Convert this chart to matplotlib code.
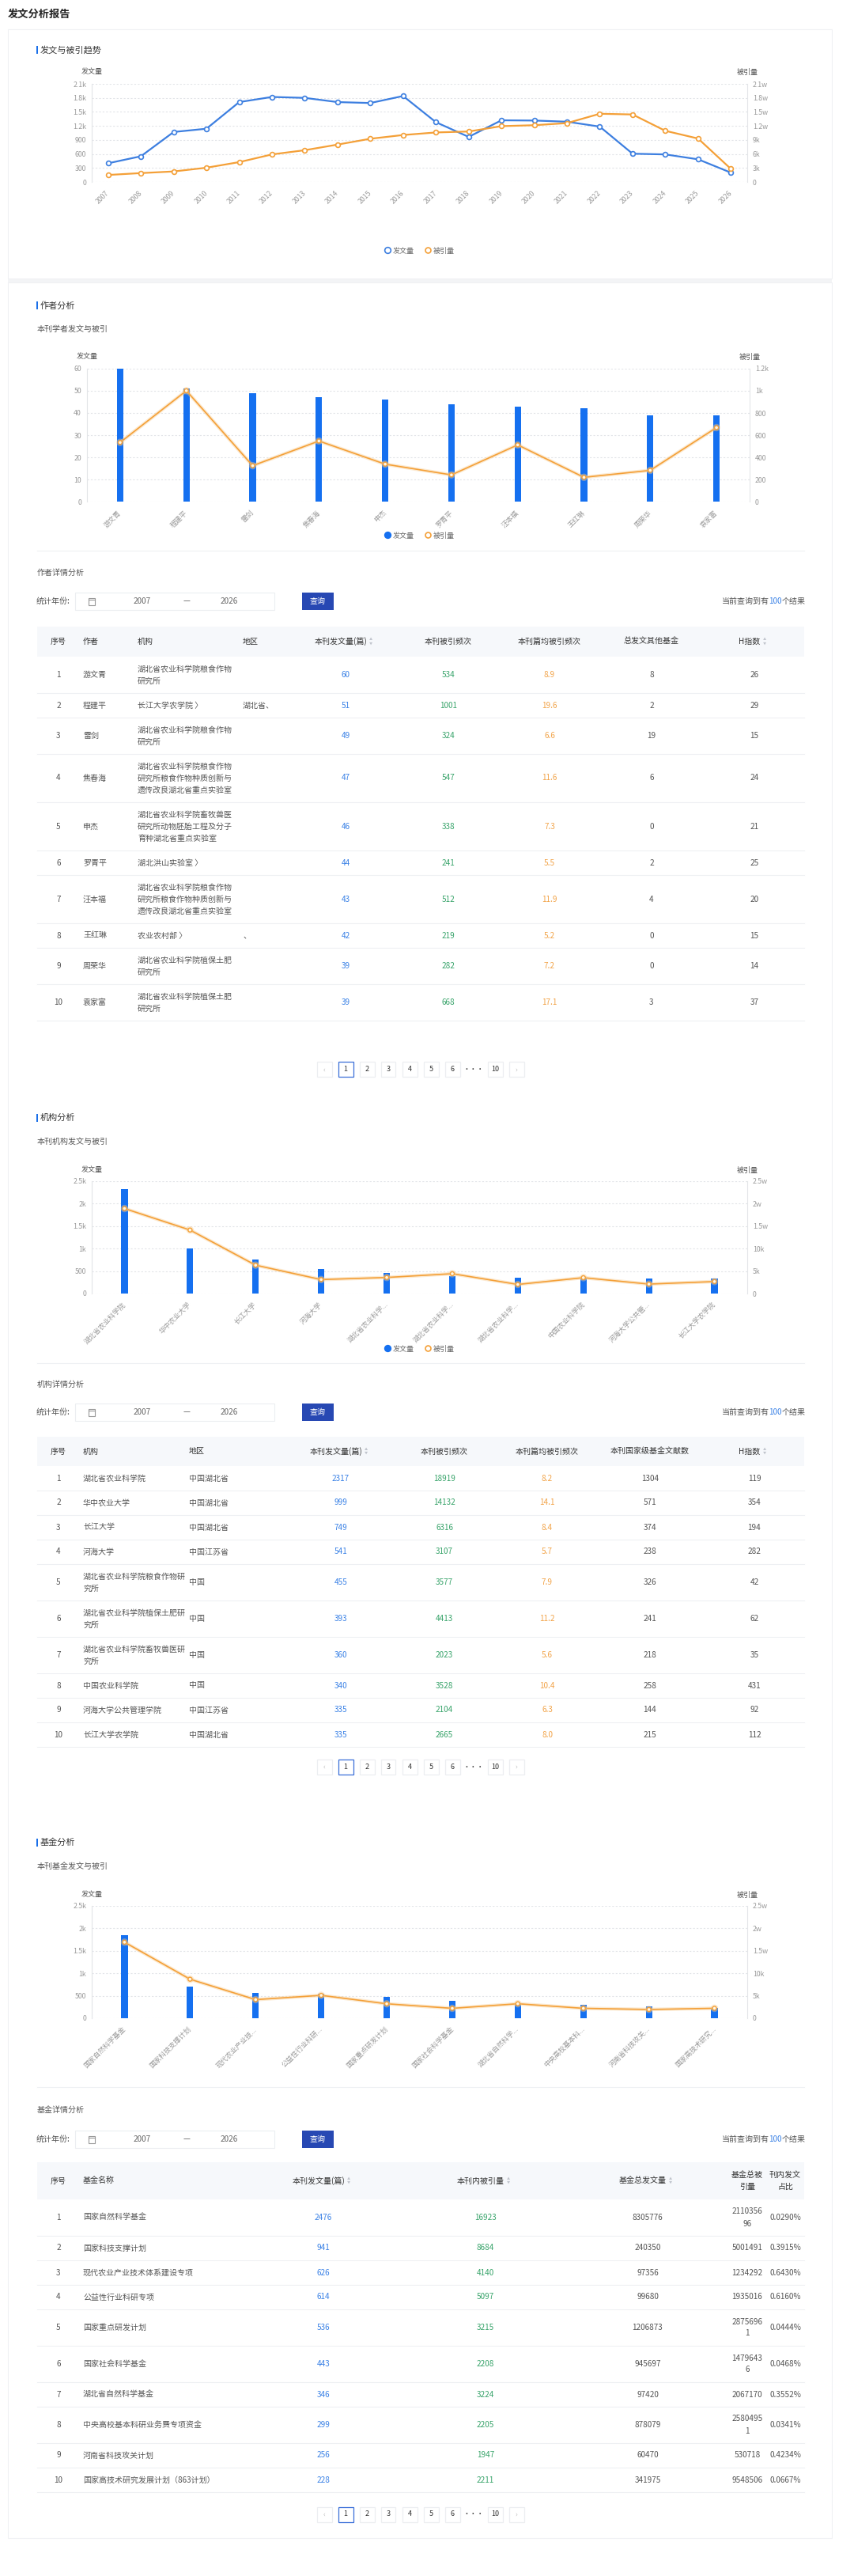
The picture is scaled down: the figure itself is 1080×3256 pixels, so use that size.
import matplotlib
matplotlib.use('Agg')
import matplotlib.pyplot as plt
import matplotlib.patheffects as pe
from matplotlib.lines import Line2D
from matplotlib.patches import Rectangle
import numpy as np

plt.rcParams['font.family'] = ['Noto Sans CJK SC', 'DejaVu Sans']

# ---------------- data ----------------
years = ['2007', '2008', '2009', '2010', '2011', '2012', '2013', '2014', '2015', '2016',
         '2017', '2018', '2019', '2020', '2021', '2022', '2023', '2024', '2025', '2026']
trend_papers = [400, 550, 1070, 1140, 1710, 1820, 1800, 1710, 1690, 1840,
                1280, 965, 1320, 1315, 1290, 1185, 605, 590, 485, 200]
trend_cites = [1500, 1900, 2250, 3050, 4250, 5900, 6800, 8000, 9250, 10050,
               10600, 10800, 11950, 12150, 12600, 14600, 14450, 10950, 9300, 2800]
trend_left_ticks = ['0', '300', '600', '900', '1.2k', '1.5k', '1.8k', '2.1k']
trend_right_ticks = ['0', '3k', '6k', '9k', '1.2w', '1.5w', '1.8w', '2.1w']

author_names = ['游文青', '程建平', '雷剑', '焦春海', '申杰', '罗青平', '汪本福', '王红琳', '周荣华', '袁家富']
author_orgs = ['湖北省农业科学院粮食作物研究所',
               '长江大学农学院 〉',
               '湖北省农业科学院粮食作物研究所',
               '湖北省农业科学院粮食作物研究所粮食作物种质创新与遗传改良湖北省重点实验室',
               '湖北省农业科学院畜牧兽医研究所动物胚胎工程及分子育种湖北省重点实验室',
               '湖北洪山实验室 〉',
               '湖北省农业科学院粮食作物研究所粮食作物种质创新与遗传改良湖北省重点实验室',
               '农业农村部 〉',
               '湖北省农业科学院植保土肥研究所',
               '湖北省农业科学院植保土肥研究所']
author_regions = ['', '湖北省、', '', '', '', '', '', '、', '', '']
author_papers = [60, 51, 49, 47, 46, 44, 43, 42, 39, 39]
author_cites = [534, 1001, 324, 547, 338, 241, 512, 219, 282, 668]
author_avg = ['8.9', '19.6', '6.6', '11.6', '7.3', '5.5', '11.9', '5.2', '7.2', '17.1']
author_funds = [8, 2, 19, 6, 0, 2, 4, 0, 0, 3]
author_h = [26, 29, 15, 24, 21, 25, 20, 15, 14, 37]
author_left_ticks = ['0', '10', '20', '30', '40', '50', '60']
author_right_ticks = ['0', '200', '400', '600', '800', '1k', '1.2k']

org_names = ['湖北省农业科学院', '华中农业大学', '长江大学', '河海大学',
             '湖北省农业科学院粮食作物研究所', '湖北省农业科学院植保土肥研究所',
             '湖北省农业科学院畜牧兽医研究所', '中国农业科学院', '河海大学公共管理学院', '长江大学农学院']
org_regions = ['中国湖北省', '中国湖北省', '中国湖北省', '中国江苏省', '中国', '中国', '中国',
               '中国', '中国江苏省', '中国湖北省']
org_papers = [2317, 999, 749, 541, 455, 393, 360, 340, 335, 335]
org_cites = [18919, 14132, 6316, 3107, 3577, 4413, 2023, 3528, 2104, 2665]
org_avg = ['8.2', '14.1', '8.4', '5.7', '7.9', '11.2', '5.6', '10.4', '6.3', '8.0']
org_funds = [1304, 571, 374, 238, 326, 241, 218, 258, 144, 215]
org_h = [119, 354, 194, 282, 42, 62, 35, 431, 92, 112]
org_left_ticks = ['0', '500', '1k', '1.5k', '2k', '2.5k']
org_right_ticks = ['0', '5k', '10k', '1.5w', '2w', '2.5w']

fund_names = ['国家自然科学基金', '国家科技支撑计划', '现代农业产业技术体系建设专项', '公益性行业科研专项',
              '国家重点研发计划', '国家社会科学基金', '湖北省自然科学基金', '中央高校基本科研业务费专项资金',
              '河南省科技攻关计划', '国家高技术研究发展计划（863计划）']
fund_chart_papers = [1850, 700, 560, 545, 480, 395, 335, 295, 260, 225]
fund_papers = [2476, 941, 626, 614, 536, 443, 346, 299, 256, 228]
fund_cites = [16923, 8684, 4140, 5097, 3215, 2208, 3224, 2205, 1947, 2211]
fund_total_papers = [8305776, 240350, 97356, 99680, 1206873, 945697, 97420, 878079, 60470, 341975]
fund_total_cites = [211035696, 5001491, 1234292, 1935016, 28756961, 14796436, 2067170, 25804951, 530718, 9548506]
fund_share = ['0.0290%', '0.3915%', '0.6430%', '0.6160%', '0.0444%', '0.0468%', '0.3552%',
              '0.0341%', '0.4234%', '0.0667%']

page_labels = ['‹', '1', '2', '3', '4', '5', '6', '···', '10', '›']

# ---------------- styles ----------------
BLUE_LINE = '#3d7fe0'
ORANGE = '#f4a038'
BAR = '#1570f0'
GRID = '#e2e4e8'
TICK = '#999999'
TEXT = '#333333'
SUB = '#555555'
NUM_BLUE = '#3b82e6'
NUM_GREEN = '#39a46b'
NUM_ORANGE = '#f2a44a'
LINE = '#eef0f3'

W, H = 1080, 3256
fig = plt.figure(figsize=(W / 100, H / 100), dpi=100)
fig.patch.set_facecolor('white')
renderer = fig.canvas.get_renderer()


def X(px):
    return px / W


def Y(py):
    return 1 - py / H


def txt(x, y, s, size=7.2, color=SUB, ha='left', va='center', **kw):
    return fig.text(X(x), Y(y), s, fontsize=size, color=color, ha=ha, va=va, **kw)


def rect(x0, y0, x1, y1, fc, ec='none', lw=0.8, z=-1):
    fig.add_artist(Rectangle((X(x0), Y(y1)), X(x1) - X(x0), Y(y0) - Y(y1),
                             transform=fig.transFigure, facecolor=fc, edgecolor=ec,
                             linewidth=lw, zorder=z))


def hline(x0, x1, y, color=LINE, lw=0.8):
    fig.add_artist(Line2D([X(x0), X(x1)], [Y(y), Y(y)], transform=fig.transFigure,
                          color=color, lw=lw, zorder=-1))


def short(name):
    return name if len(name) <= 8 else name[:7] + '...'


def wrap_text(s, n):
    s = str(s)
    return [s[i:i + n] for i in range(0, len(s), n)] or ['']


def section(y, title):
    rect(45.5, y - 5, 48, y + 5, '#1a6fe8', z=1)
    txt(51, y, title, size=8, color=TEXT)


def setup_axes(left, right, top, bottom, n, ymax, lticks, rmax, rticks, xlabels, name_y):
    ax = fig.add_axes([X(left), Y(bottom), (right - left) / W, (bottom - top) / H])
    ax2 = ax.twinx()
    ax.set_xlim(-0.5, n - 0.5)
    ax.set_ylim(0, ymax)
    ax2.set_ylim(0, rmax)
    ax.set_yticks(np.linspace(0, ymax, len(lticks)))
    ax.set_yticklabels(lticks)
    ax2.set_yticks(np.linspace(0, rmax, len(rticks)))
    ax2.set_yticklabels(rticks)
    ax.set_xticks(range(n))
    ax.set_xticklabels(xlabels, rotation=45, ha='right', va='center', rotation_mode='anchor')
    for a in (ax, ax2):
        for s in a.spines.values():
            s.set_visible(False)
        a.tick_params(axis='both', length=0, labelsize=6.3, labelcolor=TICK, pad=5)
        a.set_facecolor('none')
    ax.tick_params(axis='x', pad=9)
    ax.spines['left'].set_visible(True)
    ax.spines['left'].set_color('#e3e5e8')
    ax2.spines['right'].set_visible(True)
    ax2.spines['right'].set_color('#e3e5e8')
    ax.yaxis.grid(True, color=GRID, linestyle=(0, (2, 2)), linewidth=0.8)
    ax.set_axisbelow(True)
    txt(left, name_y, '发文量', size=6.5, color=SUB, ha='center')
    txt(right, name_y, '被引量', size=6.5, color=SUB, ha='center')
    return ax, ax2


def legend(y, bar_style):
    h1 = Line2D([], [], ls='none', marker='o', ms=5.5,
                mfc=BAR if bar_style else 'white', mec=BAR if bar_style else BLUE_LINE, mew=1.2)
    h2 = Line2D([], [], ls='none', marker='o', ms=5, mfc='white', mec=ORANGE, mew=1.2)
    fig.legend([h1, h2], ['发文量', '被引量'], loc='center', bbox_to_anchor=(X(531), Y(y)),
               ncol=2, frameon=False, fontsize=6.5, handlelength=0.6, handletextpad=0.4,
               columnspacing=1.6, labelcolor='#666666')


def combo(top, bottom, labels, bars, line, ymax, lticks, rmax, rticks, name_y, left=116, right=945):
    n = len(labels)
    ax, ax2 = setup_axes(left, right, top, bottom, n, ymax, lticks, rmax, rticks, labels, name_y)
    ax.bar(range(n), bars, width=0.1, color=BAR, zorder=2)
    ax2.plot(range(n), line, color=ORANGE, lw=1.2, marker='o', ms=3.6, mfc='#fff7e6', mec=ORANGE,
             mew=1.0, zorder=3,
             path_effects=[pe.Stroke(linewidth=3.2, foreground='#f7c98a', alpha=0.4), pe.Normal()])


def sort_arrow(x, y):
    txt(x, y - 2.6, '▲', size=3.0, color='#c0c4cc', ha='center')
    txt(x, y + 2.6, '▼', size=3.0, color='#c0c4cc', ha='center')


def filter_row(y):
    txt(46, y, '统计年份:', color=SUB)
    rect(95, y - 11, 347, y + 11, 'white', '#eceef1')
    rect(112, y - 4.5, 120, y + 4.5, 'none', '#999999', 0.8, z=1)
    hline(112, 120, y - 2, '#999999')
    txt(180, y, '2007', color='#666666', ha='center')
    txt(236, y, '—', color='#666666', ha='center')
    txt(290, y, '2026', color='#666666', ha='center')
    rect(382, y - 11, 422, y + 11, '#2748b3', z=1)
    txt(402, y, '查询', color='white', ha='center')
    t3 = txt(1019, y, '个结果', ha='right')
    w3 = t3.get_window_extent(renderer).width
    t2 = txt(1019 - w3, y, '100', color=NUM_BLUE, ha='right')
    w2 = t2.get_window_extent(renderer).width
    txt(1019 - w3 - w2, y, '当前查询到有', ha='right')


def pagination(y):
    for i, lab in enumerate(page_labels):
        x = 410 + 27 * i
        if lab != '···':
            ec = '#3a6fd8' if lab == '1' else '#eceef1'
            rect(x - 9.5, y - 9.5, x + 9.5, y + 9.5, 'white', ec, 0.9, z=1)
        txt(x, y, lab, size=6.5, color='#bbbbbb' if lab in ('‹', '›') else TEXT, ha='center')


def table(head_top, head_bot, headers, cols, rows, wrap):
    rect(47, head_top, 1017, head_bot, '#f6f8fb')
    hy = (head_top + head_bot) / 2
    for lines, x, ha, sortable in headers:
        for k, line in enumerate(lines):
            ly = hy + (k - (len(lines) - 1) / 2) * 15
            t = txt(x - (6 if sortable else 0), ly, line, color=TEXT, ha=ha)
        if sortable:
            right = t.get_window_extent(renderer).x1
            sort_arrow(right + 5, hy)
    y = head_bot
    for r in rows:
        cells = [wrap_text(c, wrap.get(i, 999)) for i, c in enumerate(r)]
        nl = max(len(c) for c in cells)
        h = 16 + 15 * nl
        yc = y + h / 2
        for i, lines in enumerate(cells):
            x, ha, color = cols[i]
            for k, line in enumerate(lines):
                ly = yc + (k - (len(lines) - 1) / 2) * 15
                txt(x, ly, line, color=color, ha=ha)
        y += h
        hline(47, 1017, y)


# ---------------- page frame ----------------
txt(10, 18, '发文分析报告', size=9.5, color='#222222', fontweight='bold')
rect(10, 352, 1052, 357, '#f3f4f6', z=-6)
rect(10, 37, 1052, 352, 'white', '#f0f1f4', 0.8, z=-5)
rect(10, 357, 1052, 3208, 'white', '#f0f1f4', 0.8, z=-5)

# ---------------- trend chart ----------------
section(63, '发文与被引趋势')
ax, ax2 = setup_axes(116, 945, 106, 230, len(years), 2100, trend_left_ticks,
                     21000, trend_right_ticks, years, 91)
ax.plot(range(len(years)), trend_papers, color=BLUE_LINE, lw=1.6, marker='o', ms=4.2,
        mfc='white', mec=BLUE_LINE, mew=1.2, zorder=3, clip_on=False)
ax2.plot(range(len(years)), trend_cites, color=ORANGE, lw=1.6, marker='o', ms=4.2,
         mfc='white', mec=ORANGE, mew=1.2, zorder=3, clip_on=False)
legend(317, False)

# ---------------- author section ----------------
section(386, '作者分析')
txt(47, 416, '本刊学者发文与被引', size=7.2, color=SUB)
combo(466, 634, author_names, author_papers, author_cites, 60, author_left_ticks,
      1200, author_right_ticks, 451, left=110, right=948)
legend(677, True)
hline(47, 1017, 696)
txt(47, 724, '作者详情分析', size=7.2, color=SUB)
filter_row(760)
table(792, 830,
      [(['序号'], 74, 'center', False), (['作者'], 105, 'left', False),
       (['机构'], 174, 'left', False), (['地区'], 307, 'left', False),
       (['本刊发文量(篇)'], 437, 'center', True), (['本刊被引频次'], 567, 'center', False),
       (['本刊篇均被引频次'], 695, 'center', False), (['总发文其他基金'], 824, 'center', False),
       (['H指数'], 954, 'center', True)],
      [(74, 'center', SUB), (105, 'left', SUB), (174, 'left', SUB), (307, 'left', SUB),
       (437, 'center', NUM_BLUE), (567, 'center', NUM_GREEN), (695, 'center', NUM_ORANGE),
       (824, 'center', SUB), (954, 'center', SUB)],
      [[i + 1, author_names[i], author_orgs[i], author_regions[i], author_papers[i],
        author_cites[i], author_avg[i], author_funds[i], author_h[i]] for i in range(len(author_names))],
      {2: 12})
pagination(1352)

# ---------------- institution section ----------------
section(1413, '机构分析')
txt(47, 1443, '本刊机构发文与被引', size=7.2, color=SUB)
combo(1493, 1635, [short(n) for n in org_names], org_papers, org_cites, 2500, org_left_ticks,
      25000, org_right_ticks, 1479)
legend(1705, True)
hline(47, 1017, 1723)
txt(47, 1750, '机构详情分析', size=7.2, color=SUB)
filter_row(1785)
table(1816, 1853,
      [(['序号'], 74, 'center', False), (['机构'], 105, 'left', False),
       (['地区'], 239, 'left', False), (['本刊发文量(篇)'], 431, 'center', True),
       (['本刊被引频次'], 562, 'center', False), (['本刊篇均被引频次'], 692, 'center', False),
       (['本刊国家级基金文献数'], 822, 'center', False), (['H指数'], 954, 'center', True)],
      [(74, 'center', SUB), (105, 'left', SUB), (239, 'left', SUB), (431, 'center', NUM_BLUE),
       (562, 'center', NUM_GREEN), (692, 'center', NUM_ORANGE), (822, 'center', SUB),
       (954, 'center', SUB)],
      [[i + 1, org_names[i], org_regions[i], org_papers[i], org_cites[i], org_avg[i],
        org_funds[i], org_h[i]] for i in range(len(org_names))],
      {1: 13})
pagination(2233)

# ---------------- fund section ----------------
section(2329, '基金分析')
txt(47, 2360, '本刊基金发文与被引', size=7.2, color=SUB)
combo(2409, 2551, [short(n) for n in fund_names], fund_chart_papers, fund_cites, 2500,
      org_left_ticks, 25000, org_right_ticks, 2395)
hline(47, 1017, 2638)
txt(47, 2667, '基金详情分析', size=7.2, color=SUB)
filter_row(2704)
table(2733, 2780,
      [(['序号'], 74, 'center', False), (['基金名称'], 105, 'left', False),
       (['本刊发文量(篇)'], 409, 'center', True), (['本刊内被引量'], 614, 'center', True),
       (['基金总发文量'], 819, 'center', True), (['基金总被', '引量'], 945, 'center', False),
       (['刊内发文', '占比'], 993, 'center', False)],
      [(74, 'center', SUB), (105, 'left', SUB), (409, 'center', NUM_BLUE),
       (614, 'center', NUM_GREEN), (819, 'center', SUB), (945, 'center', SUB),
       (993, 'center', SUB)],
      [[i + 1, fund_names[i], fund_papers[i], fund_cites[i], fund_total_papers[i],
        fund_total_cites[i], fund_share[i]] for i in range(len(fund_names))],
      {5: 7})
pagination(3178)

fig.savefig('out.png', dpi=100)
